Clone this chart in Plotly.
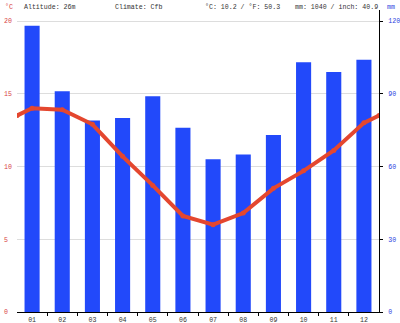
import plotly.graph_objects as go

# Monthly climate normals
months = ["01", "02", "03", "04", "05", "06", "07", "08", "09", "10", "11", "12"]
precip_mm = [118, 91, 79, 80, 89, 76, 63, 65, 73, 103, 99, 104]
temp_c = [14.0, 13.9, 12.9, 10.7, 8.7, 6.6, 6.0, 6.8, 8.5, 9.7, 11.1, 13.0]
temp_ticks = [0, 5, 10, 15, 20]
precip_ticks = [0, 30, 60, 90, 120]
altitude = "26m"
climate_class = "Cfb"

MONO = "Liberation Mono, DejaVu Sans Mono, monospace"
RED = "#d8423f"
BLUE = "#2b3fe0"
BAR = "#2249fa"
LINE = "#e4472f"
TXT = "#333333"

W, H = 400, 323
L, R, T, B = 17, 21, 10, 11
pw, ph = W - L - R, H - T - B

# temperature scale: 20 degC sits 291 px above the baseline, plot is 302 px tall
t_top = 20 * ph / 291.0
p_top = t_top * 6

idx = list(range(len(months)))
edge = (temp_c[0] + temp_c[-1]) / 2
line_x = [-0.5] + idx + [len(months) - 0.5]
line_y = [edge] + temp_c + [edge]

fig = go.Figure()
fig.add_trace(go.Bar(
    x=idx, y=precip_mm, width=0.5, marker=dict(color=BAR, line=dict(width=0)),
    yaxis="y", hoverinfo="skip",
))
fig.add_trace(go.Scatter(
    x=line_x, y=line_y, mode="lines+markers", yaxis="y2",
    line=dict(color=LINE, width=4), marker=dict(color=LINE, size=5),
    hoverinfo="skip",
))

mean_t = sum(temp_c) / len(temp_c)
total_p = sum(precip_mm)

def px_x(px):
    return (px - L) / pw

def px_y(py):
    return (H - B - py) / ph

FS = 6.6
head_y = px_y(7)
annotations = [
    dict(text="°C", x=px_x(3), font=dict(color=RED)),
    dict(text=f"Altitude: {altitude}", x=px_x(22)),
    dict(text=f"Climate: {climate_class}", x=px_x(113)),
    dict(text=f"°C: {mean_t:.1f} / °F: {mean_t * 9 / 5 + 32:.1f}", x=px_x(203)),
    dict(text=f"mm: {total_p} / inch: {total_p / 25.4:.1f}", x=px_x(293)),
    dict(text="mm", x=px_x(385), font=dict(color=BLUE)),
]
for a in annotations:
    f = dict(family=MONO, size=FS, color=TXT)
    f.update(a.pop("font", {}))
    a.update(xref="paper", yref="paper", y=head_y, xanchor="left", yanchor="middle",
             showarrow=False, font=f)

fig.update_layout(
    width=W, height=H,
    margin=dict(l=L, r=R, t=T, b=B, pad=0, autoexpand=False),
    paper_bgcolor="white", plot_bgcolor="white",
    showlegend=False, bargap=0.5,
    annotations=annotations,
    xaxis=dict(
        range=[-0.5, len(months) - 0.5], automargin=False,
        tickvals=idx, ticktext=months, ticks="", showgrid=False, zeroline=False,
        showline=True, linecolor="black", linewidth=1,
        tickfont=dict(family=MONO, size=FS, color=TXT),
        minor=dict(tickvals=[i - 0.5 for i in range(1, len(months))],
                   ticks="outside", ticklen=3, tickcolor="black", showgrid=False),
        ticklabelstandoff=1,
    ),
    yaxis=dict(
        side="right", range=[0, p_top], tickvals=precip_ticks, automargin=False,
        ticks="outside", ticklen=3, tickcolor="black",
        showline=True, linecolor="black", linewidth=1,
        showgrid=True, gridcolor="#dddddd", gridwidth=1, zeroline=False,
        tickfont=dict(family=MONO, size=FS, color=BLUE),
        ticklabelstandoff=4,
    ),
    yaxis2=dict(
        side="left", overlaying="y", range=[0, t_top], tickvals=temp_ticks,
        automargin=False,
        ticktext=[f"{v}" + "\u00a0" * (2 - len(str(v))) for v in temp_ticks],
        showgrid=False, zeroline=False, showline=False, ticks="",
        tickfont=dict(family=MONO, size=FS, color=RED),
        ticklabelstandoff=4,
    ),
)

fig.write_html("out.html")
